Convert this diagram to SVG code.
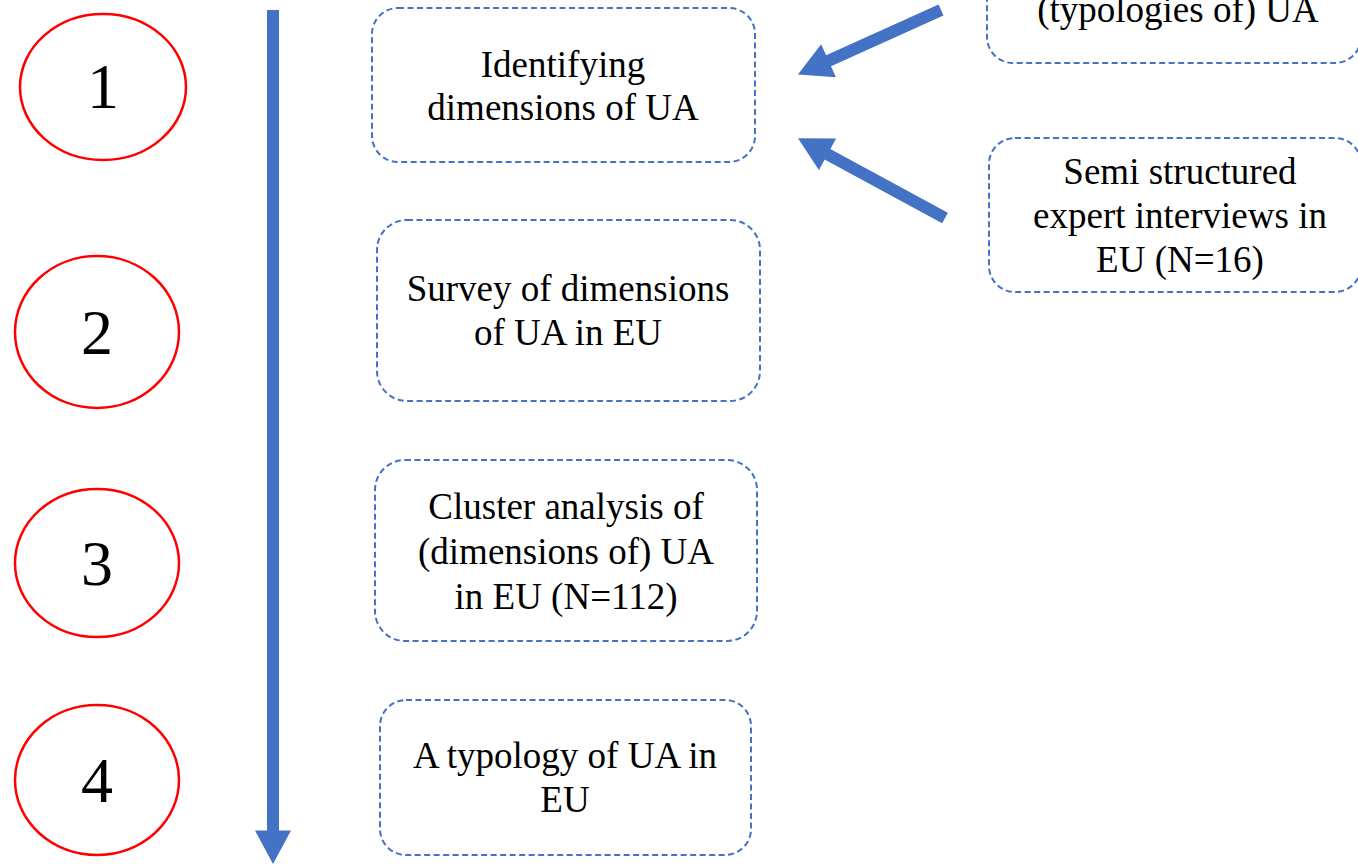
<svg xmlns="http://www.w3.org/2000/svg" width="1358" height="865" viewBox="0 0 1358 865">
<style>
.step{fill:#fff;stroke:#FF0000;stroke-width:2.5}
.num{font-family:"Liberation Serif","Times New Roman",serif;font-size:64px;fill:#000;text-anchor:middle}
.box{fill:#fff;stroke:#4472C4;stroke-width:2;stroke-dasharray:6 3.5}
.lbl{font-family:"Liberation Serif","Times New Roman",serif;font-size:37px;fill:#000;text-anchor:middle}
.arr{stroke:#4472C4;stroke-width:12;fill:none;marker-end:url(#head)}
</style>
<defs>
<marker id="head" markerUnits="strokeWidth" markerWidth="3" markerHeight="3" refX="0.05" refY="1.5" orient="auto" viewBox="0 0 2.8 3">
<path d="M0,0 L2.8,1.5 L0,3 z" fill="#4472C4"/>
</marker>
</defs>
<rect width="1358" height="865" fill="#fff"/>
<g id="connectors">
<line class="arr" x1="273" y1="10" x2="273" y2="831"/>
<line class="arr" x1="941" y1="10" x2="828" y2="61"/>
<line class="arr" x1="945" y1="218" x2="827" y2="154"/>
</g>
<g id="step1"><ellipse class="step" cx="103" cy="87" rx="83" ry="73"/><text class="num" x="103" y="108">1</text></g>
<g id="step2"><ellipse class="step" cx="97" cy="332" rx="82" ry="76"/><text class="num" x="97" y="354">2</text></g>
<g id="step3"><ellipse class="step" cx="97" cy="563" rx="82" ry="74"/><text class="num" x="97" y="585">3</text></g>
<g id="step4"><ellipse class="step" cx="97" cy="780" rx="82" ry="75"/><text class="num" x="97" y="802">4</text></g>
<g id="box1"><rect class="box" x="372" y="8" width="383" height="154" rx="26"/>
<text class="lbl" x="563" y="77">Identifying</text><text class="lbl" x="563" y="120">dimensions of UA</text></g>
<g id="box2"><rect class="box" x="377" y="220" width="383" height="181" rx="30"/>
<text class="lbl" x="568" y="301">Survey of dimensions</text><text class="lbl" x="568" y="345">of UA in EU</text></g>
<g id="box3"><rect class="box" x="375" y="460" width="382" height="181" rx="30"/>
<text class="lbl" x="566" y="519">Cluster analysis of</text><text class="lbl" x="566" y="564">(dimensions of) UA</text><text class="lbl" x="566" y="609">in EU (N=112)</text></g>
<g id="box4"><rect class="box" x="380" y="700" width="371" height="155" rx="26"/>
<text class="lbl" x="565" y="768">A typology of UA in</text><text class="lbl" x="565" y="812">EU</text></g>
<g id="box5"><rect class="box" x="987" y="-100" width="374" height="163" rx="26"/>
<text class="lbl" x="1178" y="22">(typologies of) UA</text></g>
<g id="box6"><rect class="box" x="989" y="138" width="372" height="154" rx="26"/>
<text class="lbl" x="1180" y="184">Semi structured</text><text class="lbl" x="1180" y="228">expert interviews in</text><text class="lbl" x="1180" y="272">EU (N=16)</text></g>
</svg>
